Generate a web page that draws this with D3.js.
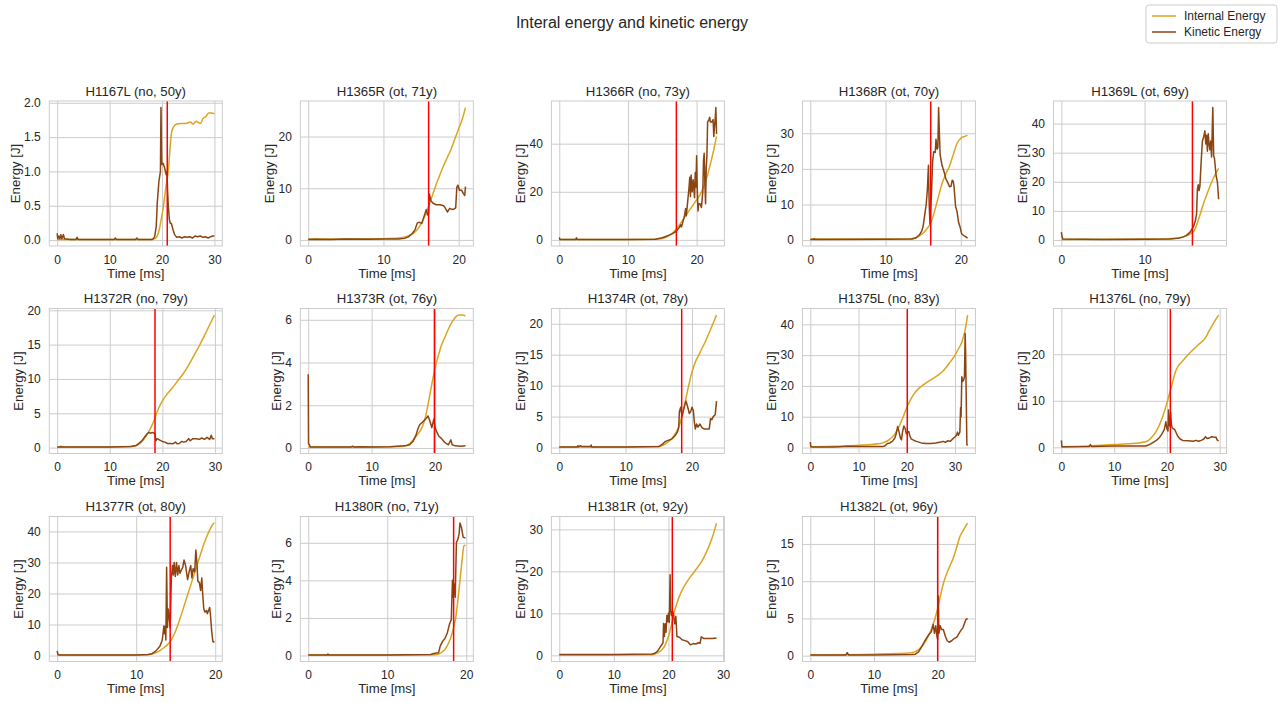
<!DOCTYPE html>
<html>
<head lang="en">
    <meta charset="UTF-8">
    <title>Interal energy and kinetic energy</title>
    <script type="text/javascript" src="https://cdn.jsdelivr.net/npm/d3@7/dist/d3.min.js"></script>
    <style>
        body { margin: 0; background: #fff; }
        svg text { font-family: Arial, "Liberation Sans", sans-serif; fill: #262626; }
    </style>
</head>
<body>
<svg id="chart" width="1279" height="703"></svg>

<script>
    var panelTitles = ["H1167L (no, 50y)", "H1365R (ot, 71y)", "H1366R (no, 73y)", "H1368R (ot, 70y)", "H1369L (ot, 69y)",
        "H1372R (no, 79y)", "H1373R (ot, 76y)", "H1374R (ot, 78y)", "H1375L (no, 83y)", "H1376L (no, 79y)",
        "H1377R (ot, 80y)", "H1380R (no, 71y)", "H1381R (ot, 92y)", "H1382L (ot, 96y)"];

    // time [ms] of the red marker in each panel
    var markerTimes = [21.0, 16.0, 17.05, 16.0, 15.75, 18.6, 19.9, 18.45, 20.1, 20.65, 14.3, 18.4, 20.7, 20.0];

    var xTicks = [[0, 10, 20, 30], [0, 10, 20], [0, 10, 20], [0, 10, 20], [0, 10],
        [0, 10, 20, 30], [0, 10, 20], [0, 10, 20], [0, 10, 20, 30], [0, 10, 20, 30],
        [0, 10, 20], [0, 10, 20], [0, 10, 20, 30], [0, 10, 20]];

    var yTicks = [[0, 0.5, 1, 1.5, 2], [0, 10, 20], [0, 20, 40], [0, 10, 20, 30], [0, 10, 20, 30, 40],
        [0, 5, 10, 15, 20], [0, 2, 4, 6], [0, 5, 10, 15, 20], [0, 10, 20, 30, 40], [0, 10, 20],
        [0, 10, 20, 30, 40], [0, 2, 4, 6], [0, 10, 20, 30], [0, 5, 10, 15]];

    // [time ms, energy J]
    var internalEnergy = [
        [[0,0.01],[18,0.01],[18.8,0.03],[19.3,0.1],[19.8,0.28],[20.25,0.48],[20.7,0.75],[21.2,1.01],[21.6,1.4],[21.85,1.58],[22.3,1.66],[22.8,1.69],[23.5,1.70],[24.5,1.70],[25.4,1.72],[25.9,1.69],[26.5,1.73],[27.0,1.71],[27.4,1.70],[27.8,1.77],[28.4,1.80],[28.9,1.85],[29.4,1.85],[30,1.84]],
        [[0,0.2],[5,0.2],[10,0.25],[12,0.35],[13,0.6],[14,1.3],[14.5,2],[15,3.1],[15.5,4.6],[16,6.5],[16.5,8.6],[17,10.7],[17.5,12.6],[18,14.4],[18.5,16],[19,17.6],[19.5,19.6],[20,21.5],[20.5,23.5],[20.9,25.6]],
        [[0,0.2],[10,0.2],[14,0.3],[15,0.6],[16,1.8],[17,4.3],[17.5,6.2],[18,8.4],[18.5,10.5],[19,12.6],[19.5,14.6],[20,16.6],[20.5,18.8],[21,22],[21.5,26],[22,31.5],[22.5,37.5],[22.9,43]],
        [[0,0.3],[10,0.3],[13,0.35],[14,0.6],[14.5,1.2],[15,2],[15.5,3.2],[16,4.8],[16.5,8],[17,12],[17.5,15.8],[18,18.6],[18.5,20.8],[19,24],[19.5,27.2],[20,28.6],[20.5,29.1],[20.9,29.4]],
        [[0,0.2],[10,0.3],[13,0.4],[14,0.7],[15,1.4],[15.5,2.1],[16,3.4],[16.5,7.2],[17,11.8],[17.5,15.8],[18,19.5],[18.5,22.6],[18.9,24.6]],
        [[0,0.1],[10,0.1],[14,0.15],[15,0.3],[16,0.8],[17,1.8],[18,3.2],[18.6,4.3],[19,5.2],[20,6.8],[21,7.9],[22,8.8],[23,9.8],[24,10.8],[25,12],[26,13.4],[27,14.8],[28,16.3],[29,17.9],[29.9,19.3]],
        [[0,0.05],[10,0.05],[15,0.07],[16,0.2],[17,0.55],[18,1.0],[18.4,1.35],[19,2.2],[19.5,3.0],[19.9,3.6],[20.5,4.3],[21,4.8],[21.5,5.15],[22,5.5],[22.7,5.9],[23.3,6.15],[23.8,6.22],[24.3,6.22],[24.8,6.18]],
        [[0,0.1],[10,0.1],[15,0.15],[15.5,0.3],[16,0.6],[16.5,1],[17,1.5],[17.5,2.3],[18,3.3],[18.5,5.1],[19,7.5],[19.5,10],[20,12.2],[20.5,13.8],[21,14.9],[21.5,16],[22,17.1],[22.5,18.3],[23,19.6],[23.7,21.4]],
        [[0,0.2],[5,0.4],[10,0.7],[14,1.2],[15,1.5],[16,2.2],[17,3.4],[18,5.6],[19,9],[20,13],[20.7,15.3],[21.5,17.4],[22.5,19.2],[23.5,20.4],[25,22],[26.5,23.5],[27.6,25],[29,27.8],[30,30],[30.5,31.5],[31.4,34.2],[32,37.5],[32.3,40],[32.6,43]],
        [[0,0.1],[5,0.3],[10,0.6],[14,0.9],[16,1.2],[16.5,1.5],[17,2],[18,3.5],[19,6],[20,9.5],[20.65,12.2],[21,13.6],[21.6,16.2],[22,17.2],[23,18.6],[24.1,20],[25,21],[26,22.1],[27.3,23.5],[28,25],[29,27],[29.8,28.4]],
        [[0,0.2],[10,0.2],[11.5,0.25],[12,0.5],[12.5,0.9],[13,1.6],[13.5,2.5],[14,3.6],[14.3,4.5],[15,8],[15.5,11.5],[16,15.5],[16.5,19.5],[17,23.5],[17.5,27.5],[18,31.5],[18.5,35.5],[19,38.8],[19.5,41.5],[19.8,42.6],[19.9,42.7]],
        [[0,0.03],[10,0.03],[16,0.04],[16.5,0.08],[17,0.2],[17.5,0.45],[18,0.9],[18.4,1.5],[18.7,2.1],[19,3.2],[19.3,4.4],[19.5,5.2],[19.7,5.85],[19.9,5.87]],
        [[0,0.1],[10,0.1],[17,0.15],[17.5,0.3],[18,0.6],[18.5,1],[19,1.6],[19.5,2.8],[20,4.5],[20.5,7],[20.7,8.2],[21,10],[21.5,12.2],[22.1,14.4],[23,16.7],[24,18.7],[24.5,19.5],[25,20.4],[26,22.2],[27,24.7],[28,28],[28.8,31.5]],
        [[0,0.1],[10,0.2],[16,0.4],[17,0.8],[18,1.8],[19,3.5],[20,6.3],[20.5,8.3],[21,10],[21.5,11.2],[22,12.2],[22.5,13.2],[23,14.6],[23.5,16],[24,16.8],[24.7,17.8]]
    ];

    var kineticEnergy = [
        [[0,0.1],[0.1,0.02],[0.3,0.06],[0.5,0.02],[0.7,0.08],[0.9,0.02],[1.2,0.08],[1.4,0.02],[2.5,0.01],[3.6,0.01],[3.8,0.04],[4.0,0.01],[10.9,0.01],[11.1,0.03],[11.3,0.01],[15,0.01],[15.2,0.03],[15.4,0.01],[18.2,0.01],[18.6,0.05],[18.9,0.2],[19.1,0.55],[19.4,0.85],[19.7,1.0],[19.8,1.93],[19.95,1.1],[20.2,1.12],[20.5,1.05],[20.8,0.95],[20.95,1.0],[21.05,0.75],[21.2,0.5],[21.4,0.3],[21.6,0.24],[21.8,0.24],[22.1,0.15],[22.4,0.08],[22.8,0.04],[23.3,0.05],[23.8,0.03],[24.3,0.05],[24.8,0.04],[25.3,0.05],[25.8,0.03],[26.3,0.06],[26.8,0.05],[27.3,0.06],[27.8,0.04],[28.3,0.05],[28.8,0.03],[29.3,0.05],[29.7,0.06],[30,0.06]],
        [[0,0.1],[1,0.15],[3,0.1],[5,0.2],[8,0.15],[10,0.2],[12,0.2],[12.8,0.3],[13.3,0.6],[13.8,1.2],[14.2,2],[14.5,3.3],[14.8,3.4],[15.1,3.2],[15.4,4.6],[15.7,5.9],[15.85,4.8],[16.0,5.2],[16.1,8.9],[16.3,7.6],[16.6,7.1],[17,6.8],[17.5,6.8],[18,6.6],[18.2,6.2],[18.5,5.4],[18.8,6.1],[19.1,5.9],[19.4,6.0],[19.6,6.2],[19.75,10.2],[19.9,10.6],[20.1,9.6],[20.4,9.6],[20.6,9.0],[20.8,8.6],[20.9,10.3]],
        [[0,1.0],[0.1,0.2],[2.4,0.2],[2.5,0.9],[2.6,0.2],[10,0.2],[14,0.3],[15,0.9],[15.5,1.4],[16,2],[16.5,2.6],[17,3.5],[17.3,4.5],[17.5,5.2],[17.7,6.3],[17.8,5.4],[18.0,7.5],[18.2,9.5],[18.4,13],[18.5,10],[18.7,16],[18.9,22],[19.0,26],[19.1,18],[19.2,27],[19.35,20],[19.5,25],[19.6,21],[19.7,17.5],[19.8,28],[19.9,22],[20.0,35],[20.1,20],[20.2,12],[20.3,15],[20.5,15],[20.7,13.5],[20.9,20],[21.0,33],[21.1,36],[21.2,24],[21.3,15],[21.4,30],[21.5,35],[21.6,49],[21.8,50],[21.9,51],[22.0,49],[22.2,49],[22.4,50],[22.5,43],[22.6,47],[22.7,50],[22.8,55],[22.9,44]],
        [[0,0.2],[0.4,0.2],[0.5,0.4],[0.6,0.2],[10,0.25],[13.5,0.3],[14,0.6],[14.5,1.5],[14.8,2.5],[15.0,4],[15.2,7],[15.4,10],[15.55,14],[15.7,21],[15.8,10],[15.9,4.5],[16.0,9],[16.1,13],[16.25,22],[16.4,24.8],[16.6,24.6],[16.7,28.3],[16.85,25.5],[16.95,26],[17.05,37.2],[17.15,30],[17.25,24],[17.5,21],[17.8,19],[18,17.3],[18.3,16],[18.5,15],[18.7,15.1],[18.85,16.8],[19.0,16.5],[19.1,15],[19.3,9.5],[19.5,8],[19.7,5],[19.9,3.7],[20.1,1.8],[20.5,1.1],[20.9,0.6]],
        [[0,2.7],[0.1,0.8],[0.2,0.3],[5,0.2],[10,0.25],[13,0.3],[14,0.6],[14.5,0.9],[15,1.5],[15.5,2.8],[15.9,4.8],[16.1,6.5],[16.25,9],[16.35,17.5],[16.45,19],[16.55,17],[16.65,18.5],[16.8,27],[16.95,34],[17.1,35.5],[17.25,37.5],[17.35,33],[17.45,36],[17.55,30.5],[17.65,36.5],[17.75,33],[17.85,31],[17.95,34],[18.05,28.5],[18.2,45.5],[18.3,29],[18.4,28],[18.5,25],[18.6,22],[18.75,20],[18.9,14]],
        [[0,0.1],[0.6,0.1],[0.7,0.2],[0.8,0.1],[10,0.1],[14,0.15],[15,0.3],[16,0.9],[16.5,1.4],[17,1.9],[17.4,2.2],[17.8,2.1],[18.1,2.2],[18.4,2.1],[18.6,2.1],[18.75,1.0],[19,1.3],[19.5,1.1],[20,0.9],[20.5,0.8],[21,0.6],[21.5,0.6],[22,0.55],[22.5,0.8],[22.8,0.55],[23.2,0.6],[23.7,0.9],[24,0.8],[24.5,0.9],[25,1.3],[25.3,1.0],[25.8,1.3],[26.5,1.3],[27,1.2],[27.5,1.4],[28,1.2],[28.5,1.5],[29,1.2],[29.3,1.8],[29.5,1.3],[29.9,1.3]],
        [[0,3.45],[0.05,0.2],[0.2,0.15],[0.3,0.05],[6.8,0.05],[7,0.08],[7.2,0.05],[8.5,0.06],[10,0.05],[13,0.06],[14,0.08],[15,0.1],[15.5,0.12],[16,0.15],[16.5,0.3],[17,0.6],[17.3,0.9],[17.6,1.1],[18,1.2],[18.5,1.35],[18.9,1.5],[19.2,1.25],[19.5,0.95],[19.8,1.35],[20.0,1.0],[20.2,0.8],[20.6,0.55],[21,0.45],[21.4,0.3],[21.8,0.2],[22.1,0.15],[22.5,0.38],[22.7,0.15],[23.2,0.1],[24,0.08],[24.8,0.1]],
        [[0,0.1],[2.7,0.1],[2.8,0.3],[2.9,0.1],[3.2,0.3],[3.4,0.15],[4.7,0.15],[4.8,0.4],[4.9,0.1],[10,0.1],[15,0.15],[15.5,0.5],[16,1.0],[16.5,1.2],[17,1.4],[17.5,2.0],[17.8,2.5],[18.0,3.2],[18.1,5.8],[18.3,6.5],[18.5,5],[18.7,6],[18.9,6.8],[19.1,7.5],[19.3,6.8],[19.6,5.5],[19.8,5.8],[20.0,6.5],[20.2,6.0],[20.35,4.2],[20.5,3.0],[20.7,3.8],[20.9,3.3],[21.2,3.8],[21.5,3.2],[21.8,3.0],[22.3,3.0],[22.6,3.0],[22.8,4.7],[23.0,4.5],[23.2,5.0],[23.5,5.3],[23.7,7.5]],
        [[0,1.8],[0.1,0.3],[0.3,0.2],[5,0.2],[8,0.4],[10,0.3],[15,0.3],[15.5,0.6],[16,1.3],[16.5,1.5],[17,2],[17.5,3],[17.8,4.5],[18.1,6.8],[18.4,5.0],[18.7,3],[18.9,2.5],[19.1,5],[19.4,7],[19.7,6],[19.9,4.5],[20.2,5],[20.4,5.2],[20.6,4],[20.9,2.8],[21.5,2.3],[22,2],[23,1.5],[24,1.3],[25,1.3],[26,1.5],[27,1.8],[27.5,2],[28,1.7],[28.5,2.2],[29,2],[29.5,2.8],[30,3.5],[30.3,4],[30.5,5],[30.7,4],[31.0,5],[31.15,13],[31.25,10],[31.4,23],[31.6,21.5],[31.8,22],[31.95,23],[32.1,37],[32.2,30],[32.45,1],[32.6,0.6]],
        [[0,1.5],[0.1,0.15],[5.3,0.2],[5.5,0.6],[5.7,0.2],[10,0.3],[16,0.3],[16.5,0.5],[17,0.8],[18,1.5],[18.5,2],[19,2.8],[19.5,3.8],[19.8,5.5],[20,4],[20.2,3.5],[20.3,8],[20.45,5],[20.6,4.5],[20.7,7.5],[20.85,5],[21,4.2],[21.5,3.8],[22,2.5],[22.5,1.8],[23,1.5],[24,1.4],[25,1.3],[25.5,1.5],[26,1.3],[26.5,1.5],[27,1.8],[27.3,2.3],[27.6,1.9],[28,2],[28.5,2.3],[29,2.2],[29.3,2.2],[29.5,1.6],[29.8,1.4]],
        [[0,1.5],[0.1,0.3],[0.3,0.2],[10,0.2],[11.5,0.3],[12,0.6],[12.5,1.5],[13,3],[13.3,5],[13.5,9.5],[13.6,7],[13.7,9.5],[13.75,5],[13.85,28.5],[13.95,9],[14.05,15],[14.15,13],[14.3,9],[14.45,25],[14.6,29],[14.7,26],[14.8,30],[14.95,25.5],[15.1,30],[15.25,26],[15.4,29],[15.55,26.5],[15.7,27.5],[15.9,28.5],[16.05,30.8],[16.25,29],[16.5,24.5],[16.7,27],[16.9,29],[17.05,25],[17.2,28],[17.4,27],[17.55,34],[17.7,29],[17.8,24],[18.0,23.5],[18.15,21],[18.3,25],[18.4,20.5],[18.55,15],[18.7,14],[18.9,14.5],[19.0,13.5],[19.3,15.5],[19.4,13],[19.55,8],[19.7,4.5],[19.9,4.3]],
        [[0,0.03],[2.4,0.03],[2.5,0.08],[2.6,0.03],[10,0.03],[15.5,0.05],[16,0.12],[16.5,0.15],[16.7,0.5],[17,0.75],[17.3,0.9],[17.6,1.2],[17.9,1.7],[18.1,1.9],[18.25,4],[18.35,3.1],[18.5,3.8],[18.6,3.1],[18.75,6],[18.95,6.2],[19.1,6.5],[19.2,7.05],[19.4,6.8],[19.6,6.3],[19.9,6.25]],
        [[0,0.2],[10,0.2],[17,0.3],[17.5,0.5],[18,1],[18.5,2],[19,3],[19.1,7.6],[19.25,4.5],[19.4,7.5],[19.55,5.5],[19.7,9.5],[19.85,8],[20.0,10],[20.15,7.8],[20.3,19.2],[20.4,11],[20.55,9.5],[20.75,10.5],[20.95,9.5],[21.15,7.5],[21.35,9.3],[21.55,4.5],[22,4.3],[22.5,3.7],[23,3.5],[23.5,3.3],[24,2.5],[24.5,2.8],[25,2.7],[25.5,3.0],[25.8,2.9],[26.0,4.4],[26.5,4.0],[27,4.0],[28,4.0],[28.8,4.1]],
        [[0,0.1],[5.6,0.1],[5.8,0.4],[6.0,0.1],[10,0.1],[16,0.15],[16.5,0.2],[17,0.5],[17.5,1.2],[18,2],[18.5,2.7],[19,3.2],[19.3,4.2],[19.5,3],[19.7,4],[19.9,2.5],[20.0,2.2],[20.1,8],[20.2,3],[20.4,4],[20.6,3.5],[20.9,3.5],[21.2,2.6],[21.5,2.0],[21.8,1.8],[22.2,2.0],[22.6,2.3],[23,2.5],[23.5,3.2],[24,3.8],[24.4,4.8],[24.7,5]]
    ];

    var seriesNames = ["Internal Energy", "Kinetic Energy"];
    var seriesColors = ["#daa520", "#8b4513"];

    var svg = d3.select("#chart");
    var panelW = 173, panelH = 145;
    var rowTops = [101, 308.5, 516.5];

    svg.append("text")
        .attr("x", 632).attr("y", 28)
        .attr("text-anchor", "middle")
        .style("font-size", "16px")
        .text("Interal energy and kinetic energy");

    panelTitles.forEach(function (title, i) {
        var col = i % 5, row = Math.floor(i / 5);
        var left = 49.3 + col * 251.05, top = rowTops[row];
        var all = internalEnergy[i].concat(kineticEnergy[i]);
        var xe = d3.extent(all, function (d) { return d[0]; });
        var ye = d3.extent(all, function (d) { return d[1]; });
        var xm = (xe[1] - xe[0]) * 0.05, ym = (ye[1] - ye[0]) * 0.05;

        var x = d3.scaleLinear().domain([xe[0] - xm, xe[1] + xm]).range([0, panelW]);
        var y = d3.scaleLinear().domain([ye[0] - ym, ye[1] + ym]).range([panelH, 0]);

        var g = svg.append("g").attr("transform", "translate(" + left + "," + top + ")");

        var decimals = yTicks[i].some(function (v) { return v % 1 !== 0; });
        var yAxis = g.append("g")
            .call(d3.axisLeft(y).tickValues(yTicks[i]).tickSize(-panelW).tickPadding(8.5)
                .tickFormat(decimals ? d3.format(".1f") : d3.format("d")));
        var xAxis = g.append("g").attr("transform", "translate(0," + panelH + ")")
            .call(d3.axisBottom(x).tickValues(xTicks[i]).tickSize(-panelH).tickPadding(9)
                .tickFormat(d3.format("d")));
        [yAxis, xAxis].forEach(function (a) {
            a.select(".domain").remove();
            a.selectAll("line").attr("stroke", "#cccccc").attr("stroke-width", 1);
            a.selectAll("text").style("font-size", "12px").attr("fill", "#262626")
                .style("font-family", "Arial, 'Liberation Sans', sans-serif");
        });

        var line = d3.line()
            .x(function (d) { return x(d[0]); })
            .y(function (d) { return y(d[1]); });

        g.append("path").datum(internalEnergy[i])
            .attr("fill", "none").attr("stroke", seriesColors[0]).attr("stroke-width", 1.5)
            .attr("d", line.curve(d3.curveMonotoneX));
        g.append("path").datum(kineticEnergy[i])
            .attr("fill", "none").attr("stroke", seriesColors[1]).attr("stroke-width", 1.5)
            .attr("stroke-linejoin", "round")
            .attr("d", line.curve(d3.curveLinear));

        g.append("line")
            .attr("x1", x(markerTimes[i])).attr("x2", x(markerTimes[i]))
            .attr("y1", 0).attr("y2", panelH)
            .attr("stroke", "red").attr("stroke-width", 1.5);

        g.append("rect").attr("width", panelW).attr("height", panelH)
            .attr("fill", "none").attr("stroke", "#cccccc").attr("stroke-width", 1);

        g.append("text")
            .attr("x", panelW / 2).attr("y", -5.5)
            .attr("text-anchor", "middle")
            .style("font-size", "13.2px")
            .text(title);

        g.append("text")
            .attr("x", panelW / 2).attr("y", panelH + 31.5)
            .attr("text-anchor", "middle")
            .style("font-size", "13.2px")
            .text("Time [ms]");

        var maxW = 0;
        yAxis.selectAll("text").each(function () { maxW = Math.max(maxW, this.getComputedTextLength()); });
        g.append("text")
            .attr("transform", "translate(" + (-(maxW + 8.5 + 4.5)) + "," + (panelH / 2) + ") rotate(-90)")
            .attr("text-anchor", "middle")
            .style("font-size", "13.2px")
            .text("Energy [J]");
    });

    // figure legend
    var legend = svg.append("g").attr("transform", "translate(1146,5)");
    legend.append("rect")
        .attr("width", 131).attr("height", 38).attr("rx", 3)
        .attr("fill", "white").attr("stroke", "#cccccc");
    seriesNames.forEach(function (name, k) {
        legend.append("line")
            .attr("x1", 6).attr("x2", 30).attr("y1", 11 + k * 16).attr("y2", 11 + k * 16)
            .attr("stroke", seriesColors[k]).attr("stroke-width", 1.5);
        legend.append("text")
            .attr("x", 38).attr("y", 11 + k * 16).attr("dy", "0.35em")
            .style("font-size", "12px")
            .text(name);
    });
</script>
</body>
</html>
